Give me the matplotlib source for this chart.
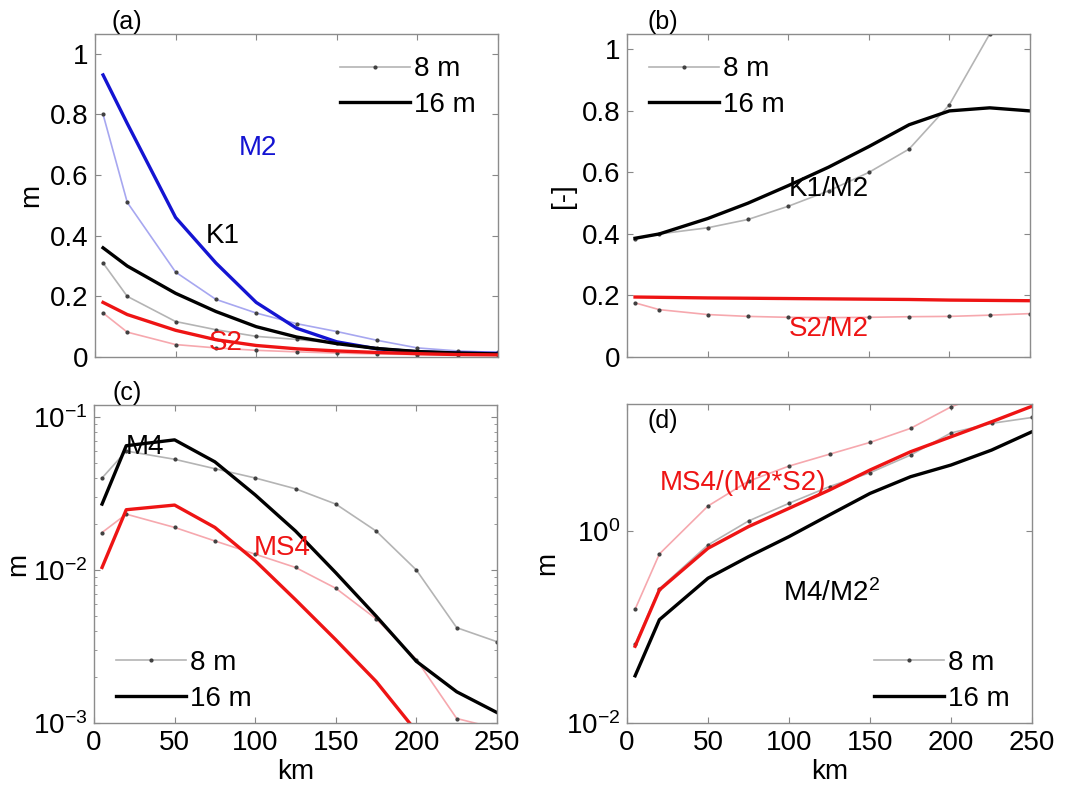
import matplotlib
matplotlib.use("Agg")
import matplotlib.pyplot as plt
from matplotlib.ticker import LogLocator, NullFormatter, FixedLocator, NullLocator

plt.rcParams['font.family'] = ['Liberation Sans', 'DejaVu Sans']
plt.rcParams['mathtext.fontset'] = 'custom'
plt.rcParams['mathtext.rm'] = 'Liberation Sans'
plt.rcParams['mathtext.it'] = 'Liberation Sans:italic'
plt.rcParams['mathtext.default'] = 'regular'

# ---------------- data ----------------
x_km = [5, 20, 50, 75, 100, 125, 150, 175, 200, 225, 250]
xticks = [0, 50, 100, 150, 200, 250]
depth_labels = ['8 m', '16 m']

# (a) amplitudes [m]
m2_16 = [0.93, 0.77, 0.46, 0.31, 0.18, 0.095, 0.05, 0.027, 0.017, 0.013, 0.012]
m2_8 = [0.80, 0.51, 0.28, 0.19, 0.145, 0.11, 0.084, 0.055, 0.03, 0.02, 0.015]
k1_16 = [0.36, 0.30, 0.21, 0.15, 0.10, 0.066, 0.044, 0.028, 0.018, 0.013, 0.01]
k1_8 = [0.31, 0.20, 0.117, 0.09, 0.068, 0.058, 0.045, 0.03, 0.02, 0.015, 0.012]
s2_16 = [0.18, 0.14, 0.088, 0.057, 0.038, 0.027, 0.02, 0.015, 0.011, 0.008, 0.007]
s2_8 = [0.145, 0.082, 0.041, 0.03, 0.022, 0.017, 0.013, 0.01, 0.008, 0.006, 0.005]

# (b) ratios [-]
k1m2_16 = [0.386, 0.40, 0.45, 0.50, 0.557, 0.617, 0.684, 0.755, 0.80, 0.81, 0.80]
k1m2_8 = [0.383, 0.40, 0.42, 0.447, 0.49, 0.54, 0.60, 0.676, 0.82, 1.05, 1.30]
s2m2_16 = [0.195, 0.194, 0.192, 0.191, 0.19, 0.189, 0.188, 0.187, 0.185, 0.184, 0.183]
s2m2_8 = [0.176, 0.154, 0.138, 0.132, 0.129, 0.128, 0.129, 0.131, 0.132, 0.136, 0.141]

# (c) overtide amplitudes [m]
m4_16 = [0.027, 0.065, 0.071, 0.051, 0.031, 0.018, 0.0096, 0.005, 0.00253, 0.0016, 0.00117]
m4_8 = [0.040, 0.060, 0.053, 0.046, 0.040, 0.034, 0.027, 0.018, 0.010, 0.0042, 0.0034]
ms4_16 = [0.0104, 0.0248, 0.0266, 0.019, 0.0115, 0.0064, 0.0035, 0.00187, 0.00088, 0.0004, 0.0002]
ms4_8 = [0.0176, 0.0232, 0.019, 0.0155, 0.0127, 0.0104, 0.0076, 0.0048, 0.0026, 0.00107, 0.00092]

# (d) normalised overtides
m4r_16 = [0.031, 0.119, 0.322, 0.54, 0.873, 1.47, 2.46, 3.67, 4.86, 6.95, 10.8]
m4r_8 = [0.066, 0.25, 0.715, 1.27, 1.94, 2.9, 4.04, 6.17, 10.5, 13.2, 15.2]
ms4r_16 = [0.063, 0.243, 0.66, 1.11, 1.72, 2.67, 4.31, 6.68, 9.57, 13.7, 19.9]
ms4r_8 = [0.153, 0.576, 1.82, 3.3, 4.74, 6.3, 8.36, 11.7, 19.6, 28.0, 40.0]

# ---------------- styles ----------------
BLUE, LBLUE = '#1414d2', '#a7a7f0'
BLACK, GRAY = '#000000', '#b4b4b4'
RED, PINK = '#ee1414', '#f6a8ae'
FS = 20
lw16, lw8 = 2.4, 1.2

def thin(ax, y, c):
    ax.plot(x_km, y, '-', color=c, lw=lw8, marker='.', ms=4,
            mfc='#404040', mec='#404040')

def thick(ax, y, c):
    ax.plot(x_km, y, '-', color=c, lw=lw16)

def style(ax, xlabels=True):
    ax.set_xlim(0, 250)
    ax.set_xticks(xticks)
    if xlabels:
        ax.set_xlabel('km', fontsize=FS, labelpad=2)
    else:
        ax.set_xticklabels([])
    ax.tick_params(direction='in', top=True, right=True, labelsize=FS,
                   length=4, color='#888888', pad=5)
    ax.tick_params(which='minor', direction='in', right=True, length=2,
                   color='#888888')
    for s in ax.spines.values():
        s.set_color('#8c8c8c')
        s.set_linewidth(1.0)

def legend(ax, loc, **kw):
    h8, = ax.plot([], [], '-', color=GRAY, lw=lw8, marker='.', ms=4,
                  mfc='#404040', mec='#404040')
    h16, = ax.plot([], [], '-', color=BLACK, lw=lw16)
    ax.legend([h8, h16], depth_labels, loc=loc, frameon=False, fontsize=FS,
              handlelength=2.5, handletextpad=0.15, labelspacing=0.35,
              borderaxespad=0.4, numpoints=1, **kw)

fig = plt.figure(figsize=(10.69, 7.92), dpi=100)
W, H = 1069, 792
def axpos(l, r, t, b):
    return [l / W, (H - b) / H, (r - l) / W, (b - t) / H]

axa = fig.add_axes(axpos(95, 498, 34, 357))
axb = fig.add_axes(axpos(627, 1030, 34, 357))
axc = fig.add_axes(axpos(94, 497, 405, 723))
axd = fig.add_axes(axpos(627, 1032, 404, 723))

# (a)
thin(axa, m2_8, LBLUE); thin(axa, k1_8, GRAY); thin(axa, s2_8, PINK)
thick(axa, m2_16, BLUE); thick(axa, k1_16, BLACK); thick(axa, s2_16, RED)
axa.set_ylim(0, 1.065)
axa.set_yticks([0, 0.2, 0.4, 0.6, 0.8, 1])
axa.set_yticklabels(['0', '0.2', '0.4', '0.6', '0.8', '1'])
axa.set_ylabel('m', fontsize=FS, labelpad=4)
style(axa, xlabels=False)
axa.text(101, 0.69, 'M2', color=BLUE, fontsize=FS, ha='center', va='center')
axa.text(79, 0.40, 'K1', color=BLACK, fontsize=FS, ha='center', va='center')
axa.text(81, 0.045, 'S2', color=RED, fontsize=FS, ha='center', va='center')
legend(axa, 'upper right', bbox_to_anchor=(1.0, 1.0))
axa.text(0.04, 1.0, '(a)', transform=axa.transAxes, fontsize=18,
         ha='left', va='bottom')

# (b)
thin(axb, k1m2_8, GRAY); thin(axb, s2m2_8, PINK)
thick(axb, k1m2_16, BLACK); thick(axb, s2m2_16, RED)
axb.set_ylim(0, 1.05)
axb.set_yticks([0, 0.2, 0.4, 0.6, 0.8, 1])
axb.set_yticklabels(['0', '0.2', '0.4', '0.6', '0.8', '1'])
axb.set_ylabel('[-]', fontsize=FS, labelpad=4)
style(axb, xlabels=False)
axb.text(125, 0.546, 'K1/M2', color=BLACK, fontsize=FS, ha='center', va='center')
axb.text(125, 0.09, 'S2/M2', color=RED, fontsize=FS, ha='center', va='center')
legend(axb, 'upper left', bbox_to_anchor=(0.0, 1.0))
axb.text(0.05, 1.0, '(b)', transform=axb.transAxes, fontsize=18,
         ha='left', va='bottom')

# (c)
axc.set_yscale('log')
thin(axc, m4_8, GRAY); thin(axc, ms4_8, PINK)
thick(axc, m4_16, BLACK); thick(axc, ms4_16, RED)
axc.set_ylim(1e-3, 0.12)
axc.yaxis.set_major_locator(FixedLocator([1e-3, 1e-2, 1e-1]))
axc.yaxis.set_minor_locator(LogLocator(base=10, subs=range(2, 10)))
axc.yaxis.set_minor_formatter(NullFormatter())
axc.set_ylabel('m', fontsize=FS, labelpad=1)
style(axc)
axc.text(31.6, 0.0635, 'M4', color=BLACK, fontsize=FS, ha='center', va='center')
axc.text(117, 0.014, 'MS4', color=RED, fontsize=FS, ha='center', va='center')
legend(axc, 'lower left', bbox_to_anchor=(0.0, -0.035))
axc.text(0.045, 1.0, '(c)', transform=axc.transAxes, fontsize=18,
         ha='left', va='bottom')

# (d)
axd.set_yscale('log')
thin(axd, m4r_8, GRAY); thin(axd, ms4r_8, PINK)
thick(axd, m4r_16, BLACK); thick(axd, ms4r_16, RED)
axd.set_ylim(1e-2, 21)
axd.yaxis.set_major_locator(FixedLocator([1e-2, 1e0]))
axd.yaxis.set_minor_locator(NullLocator())
axd.set_ylabel('m', fontsize=FS, labelpad=4)
style(axd)
axd.text(71.6, 3.16, 'MS4/(M2*S2)', color=RED, fontsize=FS, ha='center', va='center')
axd.text(126.5, 0.226, 'M4/M2$^2$', color=BLACK, fontsize=FS, ha='center', va='center')
legend(axd, 'lower right', bbox_to_anchor=(1.0, -0.035))
axd.text(0.05, 0.985, '(d)', transform=axd.transAxes, fontsize=18,
         ha='left', va='top')

fig.savefig('out.png', dpi=100)
